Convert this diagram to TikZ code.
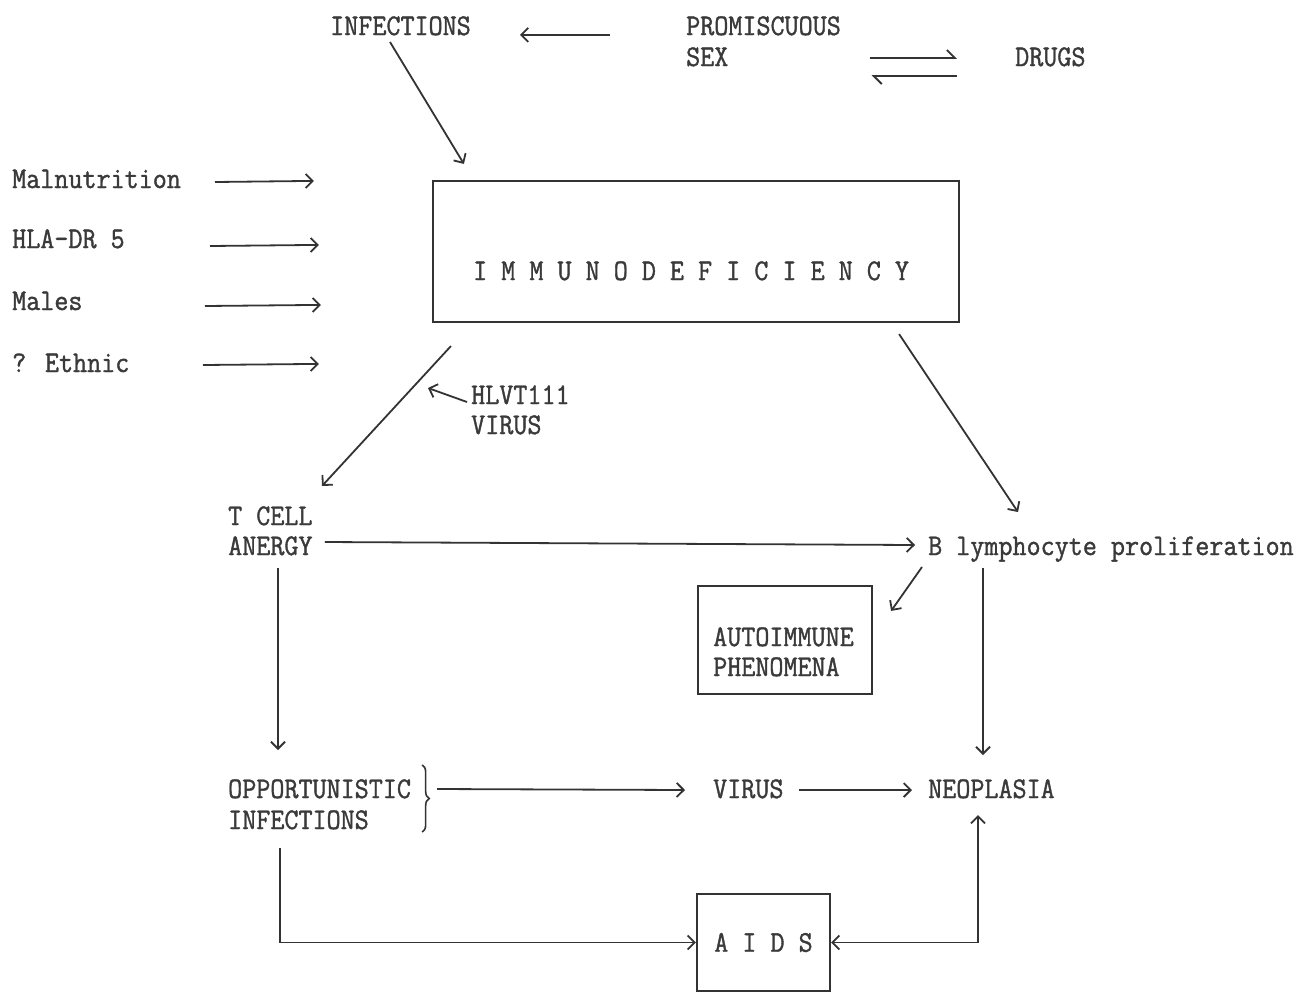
\documentclass[tikz,border=0pt]{standalone}
\usepackage{fontspec}
\newfontfamily\tw[FakeStretch=0.91,FakeBold=1.2]{Latin Modern Mono}
\usetikzlibrary{arrows.meta,calc,decorations.pathreplacing}
\definecolor{ink}{HTML}{333333}
\definecolor{txt}{HTML}{3A3A3A}
\begin{document}
\begin{tikzpicture}[x=1pt,y=-1pt,
  lbl/.style={inner sep=0pt, anchor=base west, font=\tw\fontsize{30}{30}\selectfont, text=txt},
  arr/.style={draw=ink, line width=1.8pt, -{Straight Barb[length=7pt,width=14pt]}},
  dbl/.style={draw=ink, line width=1.8pt, {Straight Barb[length=7pt,width=14pt]}-{Straight Barb[length=7pt,width=14pt]}},
  harp/.style={draw=ink, line width=1.8pt, -{Straight Barb[harpoon,length=8pt,width=16pt]}},
  box/.style={draw=ink, line width=2.2pt, inner sep=0pt, rectangle}]
\useasboundingbox[fill=white] (0,0) rectangle (1312,994);

% top row
\node[lbl] (infections) at (330,35) {INFECTIONS};
\node[lbl] (prom) at (686,35) {PROMISCUOUS};
\node[lbl] (sex) at (686,66) {SEX};
\node[lbl] (drugs) at (1015,66) {DRUGS};

% immunodeficiency box
\node[box, minimum width=526pt, minimum height=141pt] (imm) at (696,251.5) {};
\node[lbl] (immtxt) at (473,280) {I M M U N O D E F I C I E N C Y};

% left factors
\node[lbl] (malnut) at (12,188) {Malnutrition};
\node[lbl] (hla) at (12,248) {HLA-DR 5};
\node[lbl] (males) at (12,310) {Males};
\node[lbl] (ethnic) at (12,372) {? Ethnic};

% middle
\node[lbl] (hlvt) at (471,404) {HLVT111};
\node[lbl] (hlvt2) at (471,434) {VIRUS};
\node[lbl] (tcell) at (228,525) {T CELL};
\node[lbl] (anergy) at (228,555) {ANERGY};
\node[lbl] (blymph) at (928,555) {B lymphocyte proliferation};

\node[box, minimum width=174pt, minimum height=108pt] (auto) at (785,640) {};
\node[lbl] (autotxt) at (713,646) {AUTOIMMUNE};
\node[lbl] (autotxt2) at (713,676) {PHENOMENA};

% lower
\node[lbl] (opp) at (228,798) {OPPORTUNISTIC};
\node[lbl] (opp2) at (228,829) {INFECTIONS};
\node[lbl] (virus) at (713,798) {VIRUS};
\node[lbl] (neo) at (928,798) {NEOPLASIA};
\node[box, minimum width=133pt, minimum height=97pt, font=\tw\fontsize{30}{30}\selectfont, text=txt] (aids) at (763.5,942.5) {A I D S};

% connectors top
\draw[arr] ($(prom.mid west)+(-76,2)$) -- ($(infections.mid east)+(49,2)$);
\draw[harp] ($(sex.base east)+(141,-8)$) -- ($(drugs.base west)+(-58,-8)$);
\draw[harp] ($(drugs.base west)+(-58,10)$) -- ($(sex.base east)+(143,10)$);
\draw[arr] ($(infections.base west)+(60,7)$) -- ($(imm.north west)+(32,-16)$);

% left factors into box
\draw[arr] ($(malnut.base west)+(203,-6)$) -- ($(imm.north west)+(-118,1)$);
\draw[arr] ($(hla.base west)+(198,-2)$) -- ($(imm.north west)+(-113,65)$);
\draw[arr] ($(males.base west)+(193,-4)$) -- ($(imm.north west)+(-111,125)$);
\draw[arr] ($(ethnic.base west)+(191,-7)$) -- ($(imm.north west)+(-113,184)$);

% from box
\draw[arr] ($(imm.south west)+(19,23)$) -- ($(tcell.base west)+(94,-39)$);
\draw[arr] ($(hlvt.base west)+(-4,-2)$) -- ($(hlvt.base west)+(-43,-16)$);
\draw[arr] ($(imm.south east)+(-61,11)$) -- ($(blymph.base west)+(90,-43)$);

% middle connectors
\draw[arr] ($(anergy.base east)+(12,-13)$) -- ($(blymph.base west)+(-13,-10)$);
\draw[arr] ($(blymph.base west)+(-6,12)$) -- ($(auto.north east)+(18,26)$);
\draw[arr] ($(blymph.base west)+(55,13)$) -- ($(neo.base west)+(55,-43)$);
\draw[arr] ($(anergy.base west)+(50,13)$) -- ($(opp.base west)+(50,-48)$);

% brace and lower connectors
\draw[ink, line width=1.6pt, decorate, decoration={brace, amplitude=7pt}]
  ($(opp.base east)+(11,-33)$) -- ($(opp.base east)+(11,34)$);
\coordinate (bt) at ($(opp.base east)+(26,-9)$);
\draw[arr] (bt) -- ($(virus.base west)+(-28,-8)$);
\draw[arr] ($(virus.base east)+(15,-8)$) -- ($(neo.base west)+(-16,-8)$);
\draw[arr] ($(opp2.base west)+(52,19)$) |- (aids.west);
\draw[dbl] (aids.east) -| ($(neo.base west)+(50,17)$);
\end{tikzpicture}
\end{document}
